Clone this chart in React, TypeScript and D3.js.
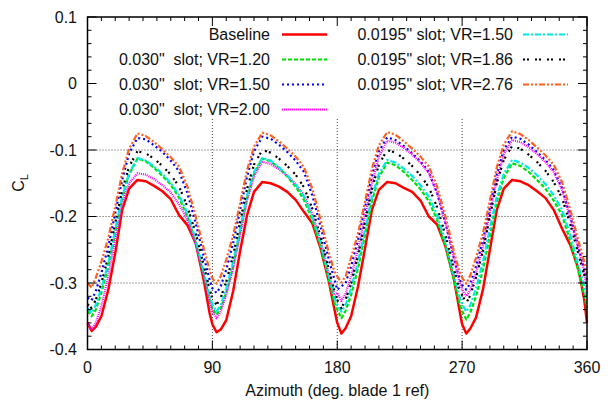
import React from "react";
import * as d3 from "d3";

// Azimuth sample positions (deg)
const azimuth = [
  0, 3, 6, 10, 15, 20, 25, 30, 36, 42, 48, 54, 60, 66, 72, 78, 84, 88,
  90, 93, 96, 100, 105, 110, 115, 120, 126, 132, 138, 144, 150, 156, 162, 168, 174, 178,
  180, 183, 186, 190, 195, 200, 205, 210, 216, 222, 228, 234, 240, 246, 252, 258, 264, 268,
  270, 273, 276, 280, 285, 290, 295, 300, 306, 312, 318, 324, 330, 336, 342, 348, 354, 358,
  360,
];

const baseline = [
  -0.360, -0.372, -0.366, -0.350, -0.310, -0.255, -0.190, -0.158, -0.145, -0.147, -0.154, -0.162, -0.174, -0.198, -0.213, -0.240, -0.298, -0.345,
  -0.362, -0.374, -0.370, -0.356, -0.312, -0.252, -0.198, -0.163, -0.148, -0.150, -0.155, -0.163, -0.175, -0.193, -0.210, -0.248, -0.298, -0.340,
  -0.360, -0.376, -0.368, -0.350, -0.305, -0.248, -0.190, -0.160, -0.148, -0.150, -0.157, -0.163, -0.176, -0.200, -0.212, -0.245, -0.293, -0.340,
  -0.362, -0.376, -0.368, -0.352, -0.310, -0.250, -0.190, -0.158, -0.145, -0.147, -0.153, -0.162, -0.172, -0.190, -0.218, -0.243, -0.280, -0.325,
  -0.360,
];

const s030vr120 = [
  -0.342, -0.350, -0.340, -0.315, -0.275, -0.225, -0.172, -0.137, -0.113, -0.117, -0.127, -0.139, -0.152, -0.172, -0.200, -0.240, -0.290, -0.325,
  -0.338, -0.348, -0.338, -0.314, -0.274, -0.223, -0.172, -0.136, -0.113, -0.117, -0.127, -0.140, -0.155, -0.175, -0.205, -0.245, -0.295, -0.330,
  -0.340, -0.353, -0.342, -0.318, -0.278, -0.228, -0.177, -0.141, -0.119, -0.123, -0.133, -0.145, -0.159, -0.177, -0.205, -0.245, -0.295, -0.330,
  -0.342, -0.355, -0.344, -0.320, -0.280, -0.229, -0.178, -0.142, -0.120, -0.124, -0.133, -0.145, -0.158, -0.176, -0.198, -0.237, -0.285, -0.318,
  -0.338,
];

const s030vr150 = [
  -0.322, -0.326, -0.312, -0.285, -0.245, -0.195, -0.145, -0.105, -0.082, -0.084, -0.093, -0.103, -0.116, -0.132, -0.165, -0.210, -0.262, -0.295,
  -0.308, -0.315, -0.305, -0.280, -0.240, -0.190, -0.140, -0.102, -0.080, -0.083, -0.092, -0.103, -0.116, -0.133, -0.168, -0.215, -0.265, -0.295,
  -0.310, -0.305, -0.300, -0.275, -0.235, -0.187, -0.138, -0.102, -0.081, -0.085, -0.094, -0.105, -0.117, -0.133, -0.165, -0.210, -0.262, -0.293,
  -0.303, -0.310, -0.300, -0.275, -0.236, -0.186, -0.136, -0.100, -0.080, -0.083, -0.092, -0.103, -0.115, -0.130, -0.157, -0.200, -0.248, -0.278,
  -0.295,
];

const s030vr200 = [
  -0.360, -0.370, -0.360, -0.335, -0.290, -0.235, -0.180, -0.150, -0.135, -0.137, -0.144, -0.153, -0.164, -0.182, -0.205, -0.242, -0.290, -0.328,
  -0.343, -0.353, -0.343, -0.318, -0.278, -0.228, -0.176, -0.140, -0.118, -0.121, -0.129, -0.139, -0.151, -0.168, -0.196, -0.236, -0.286, -0.318,
  -0.315, -0.327, -0.316, -0.290, -0.250, -0.200, -0.150, -0.110, -0.086, -0.089, -0.097, -0.107, -0.119, -0.135, -0.165, -0.210, -0.262, -0.298,
  -0.310, -0.320, -0.310, -0.285, -0.245, -0.195, -0.145, -0.107, -0.085, -0.088, -0.096, -0.106, -0.118, -0.133, -0.160, -0.203, -0.250, -0.282,
  -0.316,
];

const s0195vr150 = [
  -0.338, -0.345, -0.333, -0.308, -0.270, -0.220, -0.170, -0.135, -0.112, -0.116, -0.125, -0.136, -0.150, -0.168, -0.195, -0.235, -0.285, -0.320,
  -0.332, -0.343, -0.333, -0.308, -0.268, -0.218, -0.168, -0.133, -0.112, -0.116, -0.126, -0.138, -0.152, -0.170, -0.200, -0.240, -0.290, -0.322,
  -0.333, -0.343, -0.333, -0.308, -0.268, -0.220, -0.170, -0.136, -0.115, -0.119, -0.128, -0.139, -0.153, -0.170, -0.198, -0.238, -0.288, -0.320,
  -0.332, -0.343, -0.333, -0.308, -0.268, -0.218, -0.170, -0.136, -0.115, -0.119, -0.127, -0.138, -0.151, -0.168, -0.190, -0.228, -0.275, -0.305,
  -0.326,
];

const s0195vr186 = [
  -0.332, -0.338, -0.325, -0.300, -0.260, -0.210, -0.160, -0.125, -0.102, -0.105, -0.113, -0.124, -0.137, -0.155, -0.185, -0.225, -0.275, -0.310,
  -0.322, -0.333, -0.322, -0.298, -0.258, -0.208, -0.158, -0.122, -0.100, -0.104, -0.113, -0.124, -0.137, -0.156, -0.188, -0.230, -0.280, -0.312,
  -0.325, -0.338, -0.325, -0.300, -0.258, -0.208, -0.158, -0.122, -0.100, -0.104, -0.113, -0.124, -0.138, -0.156, -0.186, -0.228, -0.278, -0.310,
  -0.318, -0.330, -0.318, -0.292, -0.252, -0.200, -0.150, -0.115, -0.094, -0.098, -0.107, -0.118, -0.131, -0.148, -0.172, -0.212, -0.258, -0.288,
  -0.305,
];

const s0195vr276 = [
  -0.300, -0.307, -0.292, -0.268, -0.232, -0.185, -0.135, -0.098, -0.075, -0.079, -0.088, -0.099, -0.111, -0.125, -0.155, -0.200, -0.250, -0.280,
  -0.293, -0.301, -0.290, -0.265, -0.228, -0.180, -0.130, -0.095, -0.074, -0.078, -0.087, -0.098, -0.110, -0.126, -0.158, -0.205, -0.255, -0.283,
  -0.290, -0.299, -0.290, -0.262, -0.225, -0.178, -0.128, -0.093, -0.073, -0.077, -0.087, -0.098, -0.110, -0.125, -0.155, -0.200, -0.252, -0.282,
  -0.292, -0.301, -0.288, -0.262, -0.225, -0.176, -0.126, -0.092, -0.072, -0.076, -0.085, -0.096, -0.108, -0.122, -0.148, -0.190, -0.238, -0.268,
  -0.285,
];

const seriesLabels = [
  "Baseline",
  "0.030\"  slot; VR=1.20",
  "0.030\"  slot; VR=1.50",
  "0.030\"  slot; VR=2.00",
  "0.0195\" slot; VR=1.50",
  "0.0195\" slot; VR=1.86",
  "0.0195\" slot; VR=2.76",
];
const seriesValues = [baseline, s030vr120, s030vr150, s030vr200, s0195vr150, s0195vr186, s0195vr276];
const seriesColors = ["#ff0000", "#00e000", "#0000ff", "#ff00ff", "#00e8e8", "#000000", "#ff6020"];
const seriesDash = [null, "4,2", "2,3", "1,1", "6,2,2,2", "2,2,2,6", "6,2,2,2,2,2"];

const xTicks = [0, 90, 180, 270, 360];
const yTicks = [0.1, 0, -0.1, -0.2, -0.3, -0.4];
const yTickLabels = ["0.1", "0", "-0.1", "-0.2", "-0.3", "-0.4"];

const FONT = "'Liberation Sans', Arial, Helvetica, sans-serif";

export default function App() {
  const W = 613, H = 403;
  const L = 87.5, R = 587, T = 17, B = 349.5;
  const x = d3.scaleLinear().domain([0, 360]).range([L, R]);
  const y = d3.scaleLinear().domain([-0.4, 0.1]).range([B, T]);
  const line = d3.line<[number, number]>().x((d) => x(d[0])).y((d) => y(d[1]));

  const xMinor = d3.range(0, 361, 10);
  const yMinor = d3.range(-0.4, 0.1001, 0.02);

  const legendRows = [
    { col: 0, row: 0, i: 0 },
    { col: 0, row: 1, i: 1 },
    { col: 0, row: 2, i: 2 },
    { col: 0, row: 3, i: 3 },
    { col: 1, row: 0, i: 4 },
    { col: 1, row: 1, i: 5 },
    { col: 1, row: 2, i: 6 },
  ];
  const colTextRight = [270, 513];
  const colLineStart = [282, 523];
  const rowY = [34.5, 59.5, 84.5, 109.5];

  return (
    <svg width={W} height={H} style={{ position: "absolute", left: 0, top: 0 }} fontFamily={FONT}>
      <rect x={0} y={0} width={W} height={H} fill="#fff" />
      {/* grid */}
      {yTicks.slice(1, -1).map((v) => (
        <line key={"gy" + v} x1={L} x2={R} y1={y(v)} y2={y(v)} stroke="#444" strokeWidth={1} strokeDasharray="1,2" />
      ))}
      {xTicks.slice(1, -1).map((v) => (
        <line key={"gx" + v} x1={x(v)} x2={x(v)} y1={T} y2={B} stroke="#444" strokeWidth={1} strokeDasharray="1,2" />
      ))}
      {/* legend background */}
      <rect x={L + 1} y={T + 1} width={R - L - 2} height={101} fill="#fff" />
      {/* curves */}
      {seriesValues.map((vals, si) => (
        <path
          key={"s" + si}
          d={line(azimuth.map((a, k) => [a, vals[k]] as [number, number])) || ""}
          fill="none"
          stroke={seriesColors[si]}
          strokeWidth={si === 0 ? 2.5 : 2.2}
          strokeDasharray={seriesDash[si] || undefined}
          strokeLinejoin="round"
        />
      ))}
      {/* legend */}
      {legendRows.map((r) => (
        <g key={"lg" + r.i}>
          <text
            x={colTextRight[r.col]}
            y={rowY[r.row] + 5.5}
            textAnchor="end"
            fontSize={16}
            fill="#111"
            style={{ whiteSpace: "pre" }}
          >
            {seriesLabels[r.i]}
          </text>
          <line
            x1={colLineStart[r.col]}
            x2={colLineStart[r.col] + 45}
            y1={rowY[r.row]}
            y2={rowY[r.row]}
            stroke={seriesColors[r.i]}
            strokeWidth={r.i === 0 ? 2.5 : 2.2}
            strokeDasharray={seriesDash[r.i] || undefined}
          />
        </g>
      ))}
      {/* ticks */}
      {xMinor.map((v) => {
        const major = v % 90 === 0;
        const len = major ? 9 : 4;
        return (
          <g key={"tx" + v}>
            <line x1={x(v)} x2={x(v)} y1={B} y2={B - len} stroke="#000" strokeWidth={1} />
            <line x1={x(v)} x2={x(v)} y1={T} y2={T + len} stroke="#000" strokeWidth={1} />
          </g>
        );
      })}
      {yMinor.map((v, k) => {
        const major = k % 5 === 0;
        const len = major ? 9 : 4;
        return (
          <g key={"ty" + k}>
            <line x1={L} x2={L + len} y1={y(v)} y2={y(v)} stroke="#000" strokeWidth={1} />
            <line x1={R} x2={R - len} y1={y(v)} y2={y(v)} stroke="#000" strokeWidth={1} />
          </g>
        );
      })}
      {/* border */}
      <rect x={L} y={T} width={R - L} height={B - T} fill="none" stroke="#000" strokeWidth={1.5} />
      {/* tick labels */}
      {xTicks.map((v) => (
        <text key={"xl" + v} x={x(v)} y={373} textAnchor="middle" fontSize={16} fill="#111">
          {v}
        </text>
      ))}
      {yTicks.map((v, k) => (
        <text key={"yl" + v} x={77} y={y(v) + 5.5} textAnchor="end" fontSize={16} fill="#111">
          {yTickLabels[k]}
        </text>
      ))}
      {/* axis titles */}
      <text x={(L + R) / 2} y={396} textAnchor="middle" fontSize={16} fill="#111">
        Azimuth (deg. blade 1 ref)
      </text>
      <text transform="translate(24,183) rotate(-90)" textAnchor="middle" fontSize={16} fill="#111">
        C<tspan fontSize={11} dy={4}>L</tspan>
      </text>
    </svg>
  );
}
